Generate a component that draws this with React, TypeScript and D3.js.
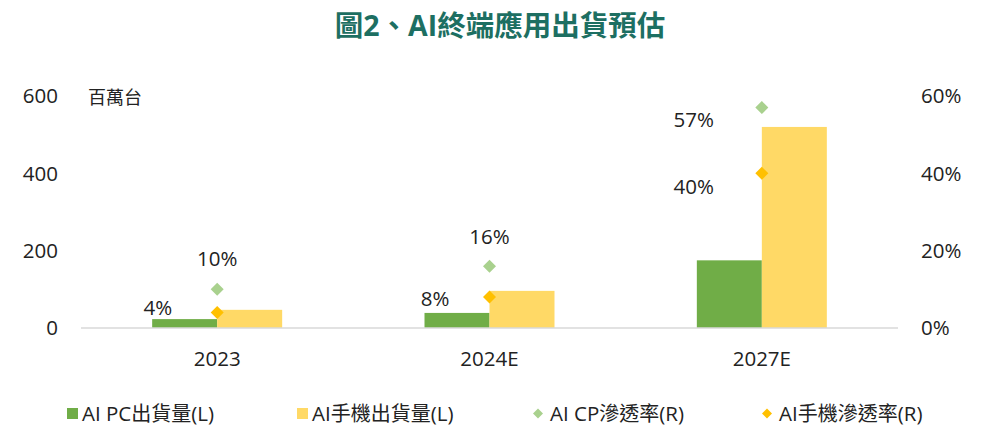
import React from "react";
import * as d3 from "d3";

const categories = ["2023", "2024E", "2027E"];
const aiPcShipments = [23, 39, 175];
const aiPhoneShipments = [47, 96, 520];
const aiPcPenetration = [0.1, 0.16, 0.57];
const aiPhonePenetration = [0.04, 0.08, 0.4];
const leftTicks = [0, 200, 400, 600];
const rightTicks = [0, 0.2, 0.4, 0.6];
const legendLabels = ["AI PC出貨量(L)", "AI手機出貨量(L)", "AI CP滲透率(R)", "AI手機滲透率(R)"];

// label placement (style only): offset of label from its marker
const cpLabelPlacement = [
  { dx: 0, dy: -31, anchor: "middle" },
  { dx: 0, dy: -29, anchor: "middle" },
  { dx: -48, dy: 12, anchor: "end" },
];
const phoneLabelPlacement = [
  { dx: -45, dy: -5, anchor: "end" },
  { dx: -40, dy: 2, anchor: "end" },
  { dx: -48, dy: 13, anchor: "end" },
];

const W = 1000;
const H = 430;
const FONT = "'Open Sans', 'Noto Sans CJK TC', sans-serif";
const CJK_FONT = "'Noto Sans CJK TC', sans-serif";
const GREEN = "#70AD47";
const YELLOW = "#FFD966";
const CP_DIAMOND = "#A9D18E";
const PHONE_DIAMOND = "#FFC000";

const diamond = (cx: number, cy: number, r: number) =>
  `M${cx},${cy - r}L${cx + r},${cy}L${cx},${cy + r}L${cx - r},${cy}Z`;

// split text into latin / CJK runs so each run gets its own font and size
const MixedText = ({ s, latinSize, cjkSize }: { s: string; latinSize: number; cjkSize: number }) => {
  const runs = s.match(/[\u3000-\u9fff\uff00-\uffef]+|[^\u3000-\u9fff\uff00-\uffef]+/g) || [];
  return (
    <>
      {runs.map((r, i) => {
        const cjk = /[\u3000-\u9fff]/.test(r);
        return (
          <tspan key={i} fontFamily={cjk ? CJK_FONT : FONT} fontSize={cjk ? cjkSize : latinSize}>
            {r}
          </tspan>
        );
      })}
    </>
  );
};

export default function App() {
  const x = d3.scaleBand().domain(categories).range([81, 898]).paddingInner(0).paddingOuter(0);
  const yL = d3.scaleLinear().domain([0, 600]).range([328, 96]);
  const yR = d3.scaleLinear().domain([0, 0.6]).range([328, 96]);
  const barW = 65;
  const pct = d3.format(".0%");

  const legendX = [67, 297, 538, 767];
  const legendColors = [GREEN, YELLOW, CP_DIAMOND, PHONE_DIAMOND];

  return (
    <svg
      width={W}
      height={H}
      style={{ position: "absolute", left: 0, top: 0, background: "#fff" }}
      fontFamily={FONT}
    >
      <rect width={W} height={H} fill="#fff" />
      <text x={500} y={36} textAnchor="middle" fontSize={28.5} fontWeight="bold" fill="#1d6f62">
        圖2、AI終端應用出貨預估
      </text>

      {/* left axis ticks */}
      {leftTicks.map((t) => (
        <text key={"l" + t} x={58} y={yL(t)} dy="0.35em" textAnchor="end" fontSize={20.5} fill="#222">
          {t}
        </text>
      ))}
      {rightTicks.map((t) => (
        <text key={"r" + t} x={921} y={yR(t)} dy="0.35em" textAnchor="start" fontSize={20.5} fill="#222">
          {pct(t)}
        </text>
      ))}
      <text x={88} y={104} fontSize={18} fontFamily={CJK_FONT} fill="#222">百萬台</text>

      {/* bars */}
      {categories.map((c, i) => {
        const cx = (x(c) as number) + x.bandwidth() / 2;
        return (
          <g key={c}>
            <rect x={cx - barW} y={yL(aiPcShipments[i])} width={barW} height={yL(0) - yL(aiPcShipments[i])} fill={GREEN} />
            <rect x={cx} y={yL(aiPhoneShipments[i])} width={barW} height={yL(0) - yL(aiPhoneShipments[i])} fill={YELLOW} />
          </g>
        );
      })}

      {/* axis line */}
      <line x1={81} x2={898} y1={yL(0)} y2={yL(0)} stroke="#d9d9d9" strokeWidth={1.5} />

      {/* category labels */}
      {categories.map((c) => (
        <text key={"c" + c} x={(x(c) as number) + x.bandwidth() / 2} y={366} textAnchor="middle" fontSize={20.5} fill="#222">
          {c}
        </text>
      ))}

      {/* diamonds + labels */}
      {categories.map((c, i) => {
        const cx = (x(c) as number) + x.bandwidth() / 2;
        const cyCp = yR(aiPcPenetration[i]);
        const cyPh = yR(aiPhonePenetration[i]);
        const pc = cpLabelPlacement[i];
        const pp = phoneLabelPlacement[i];
        return (
          <g key={"d" + c}>
            <path d={diamond(cx, cyCp, 6.5)} fill={CP_DIAMOND} />
            <path d={diamond(cx, cyPh, 6.5)} fill={PHONE_DIAMOND} />
            <text x={cx + pc.dx} y={cyCp + pc.dy} dy="0.35em" textAnchor={pc.anchor as any} fontSize={20.5} fill="#222">
              {pct(aiPcPenetration[i])}
            </text>
            <text x={cx + pp.dx} y={cyPh + pp.dy} dy="0.35em" textAnchor={pp.anchor as any} fontSize={20.5} fill="#222">
              {pct(aiPhonePenetration[i])}
            </text>
          </g>
        );
      })}

      {/* legend */}
      <g fill="#222">
        {legendLabels.map((l, i) => (
          <g key={l}>
            {i < 2 ? (
              <rect x={legendX[i]} y={408} width={11} height={11} fill={legendColors[i]} />
            ) : (
              <path d={diamond(legendX[i], 413.5, 5)} fill={legendColors[i]} />
            )}
            <text x={legendX[i] + (i < 2 ? 15 : 12)} y={421}>
              <MixedText s={l} latinSize={20.5} cjkSize={20} />
            </text>
          </g>
        ))}
      </g>
    </svg>
  );
}
